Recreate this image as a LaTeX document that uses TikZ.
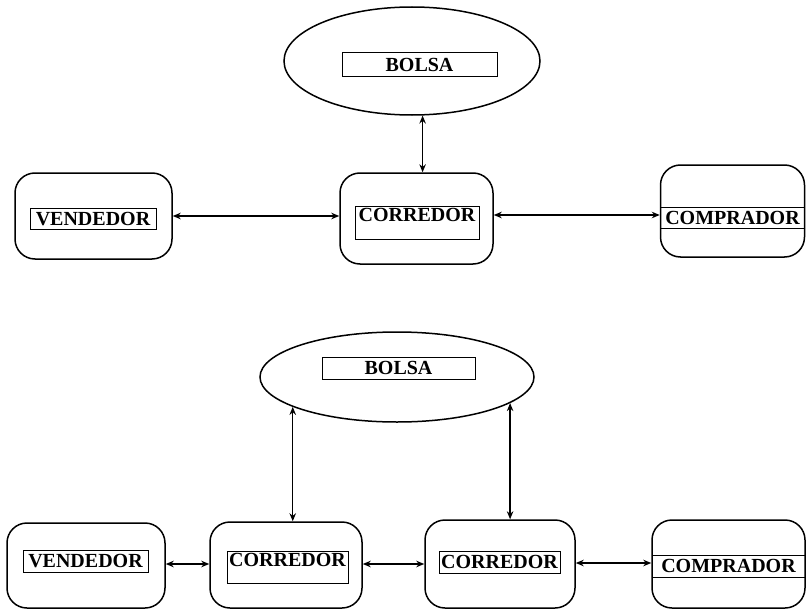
\documentclass[tikz,border=0pt]{standalone}
\usepackage{fontspec}
\setmainfont{Liberation Serif}
\usetikzlibrary{shapes.geometric,arrows.meta,calc}
\begin{document}
\begin{tikzpicture}[x=1pt,y=-1pt,
  outer/.style={draw, rounded corners=20pt, line width=1.5pt, inner sep=0pt},
  ell/.style={draw, ellipse, line width=1.5pt, inner sep=0pt},
  lbl/.style={draw, line width=1pt, inner sep=0pt, font=\fontsize{20}{22}\selectfont\bfseries, text height=13.5pt, text depth=0pt},
  arr/.style={{Stealth[length=8pt,width=6.5pt]}-{Stealth[length=8pt,width=6.5pt]}, line width=1.4pt}]
\useasboundingbox (0,0) rectangle (806,610);
% ---- top diagram ----
\node[ell, minimum width=256pt, minimum height=108pt] (b1) at (412,61) {};
\node[lbl, minimum width=155pt, minimum height=24pt] (tb1) at (419.5,65) {BOLSA};
\node[outer, minimum width=157pt, minimum height=86pt] (v1) at (93.5,216) {};
\node[lbl, minimum width=126pt, minimum height=21pt] (tv1) at (93,218.5) {VENDEDOR};
\node[outer, minimum width=153pt, minimum height=91pt] (c1) at (416.5,218.5) {};
\node[lbl, minimum width=124pt, text depth=16pt, inner ysep=1.5pt] (tc1) at (417,223) {CORREDOR};
\node[outer, minimum width=144pt, minimum height=92pt] (cp1) at (732.5,211) {};
\node[lbl, minimum width=144pt, minimum height=21pt] (tcp1) at (732.5,217.5) {COMPRADOR};
\coordinate (q1) at ($(c1.east)+(0,-3.5)$);
\draw[arr] (b1.281.6) -- (b1.281.6 |- c1.north);
\draw[arr] (v1.east) -- (v1.east -| c1.west);
\draw[arr] (q1) -- (q1 -| cp1.west);
% ---- bottom diagram ----
\node[ell, minimum width=274pt, minimum height=90pt] (b2) at (397,377) {};
\node[lbl, minimum width=153pt, minimum height=22pt] (tb2) at (398.5,368) {BOLSA};
\node[outer, minimum width=158pt, minimum height=85pt] (v2) at (86,565.5) {};
\node[lbl, minimum width=125pt, minimum height=22pt] (tv2) at (85.5,561) {VENDEDOR};
\node[outer, minimum width=152pt, minimum height=86pt] (c2a) at (286,565) {};
\node[lbl, minimum width=121pt, text depth=15pt, inner ysep=1.5pt] (tc2a) at (287.5,567.5) {CORREDOR};
\node[outer, minimum width=150pt, minimum height=88pt] (c2b) at (500,564) {};
\node[lbl, minimum width=121pt, minimum height=22pt] (tc2b) at (499.5,562) {CORREDOR};
\node[outer, minimum width=153pt, minimum height=88pt] (cp2) at (728.5,564) {};
\node[lbl, minimum width=153pt, minimum height=22pt] (tcp2) at (728.5,566) {COMPRADOR};
\coordinate (q2) at ($(v2.east)+(0,-1.5)$);
\coordinate (q3) at ($(c2a.east)+(0,-1)$);
\coordinate (q4) at ($(c2b.east)+(0,-1)$);
\draw[arr] (b2.196.4) -- (b2.196.4 |- c2a.north);
\draw[arr] (b2.347.3) -- (b2.347.3 |- c2b.north);
\draw[arr] (q2) -- (q2 -| c2a.west);
\draw[arr] (q3) -- (q3 -| c2b.west);
\draw[arr] (q4) -- (q4 -| cp2.west);
\end{tikzpicture}
\end{document}
